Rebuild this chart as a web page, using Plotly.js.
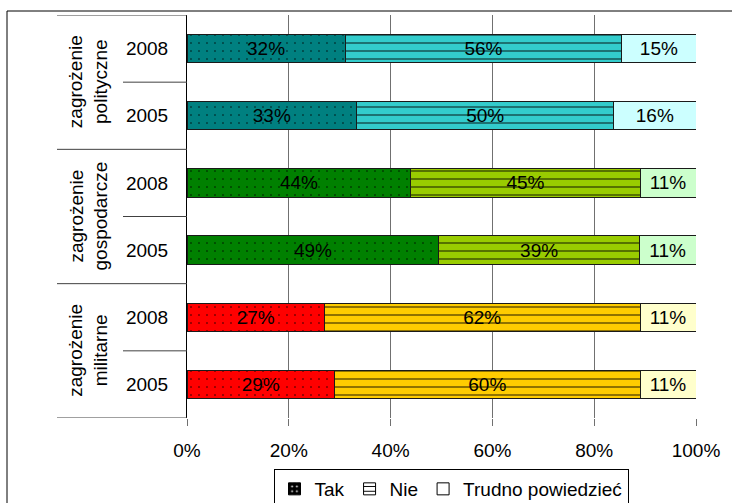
<!DOCTYPE html>
<html>
<head>
<meta charset="utf-8">
<script src="https://cdn.plot.ly/plotly-3.0.1.min.js"></script>
<style>html,body{margin:0;padding:0;background:#fff;}#chart{width:732px;height:503px;}</style>
</head>
<body>
<div id="chart"></div>
<script>
// ---- data ----
const groupNames = ['zagrożenie<br>polityczne', 'zagrożenie<br>gospodarcze', 'zagrożenie<br>militarne'];
const years = ['2008', '2005', '2008', '2005', '2008', '2005'];
const barGroup = [0, 0, 1, 1, 2, 2];
const tak = [32, 33, 44, 49, 27, 29];
const nie = [56, 50, 45, 39, 62, 60];
const trudno = [15, 16, 11, 11, 11, 11];
const seriesNames = ['Tak', 'Nie', 'Trudno powiedzieć'];

// ---- styles ----
const FONT = 'Liberation Sans, Arial, sans-serif';
const FS = 19;
const seriesColors = [
  ['#008080', '#008000', '#FF0000'],   // Tak
  ['#33CCCC', '#99CC00', '#FFCC00'],   // Nie
  ['#CCFFFF', '#CCFFCC', '#FFFFCC']    // Trudno powiedzieć
];
const seriesPatterns = [
  {shape: '.', size: 8, solidity: 0.03, fgcolor: '#000', fgopacity: 0.9, fillmode: 'replace'},
  {shape: '-', size: 8, solidity: 0.2, fgcolor: '#000', fgopacity: 0.55, fillmode: 'replace'},
  null
];
const seriesValues = [tak, nie, trudno];

const yIdx = years.map((_, i) => i);

const traces = [];
seriesValues.forEach((vals, s) => {
  groupNames.forEach((_, g) => {
    const idx = yIdx.filter(i => barGroup[i] === g);
    const col = seriesColors[s][g];
    const marker = {color: col, line: {color: '#1a1a1a', width: 1}};
    if (seriesPatterns[s]) marker.pattern = Object.assign({bgcolor: col}, seriesPatterns[s]);
    traces.push({
      type: 'bar', orientation: 'h', name: seriesNames[s],
      y: idx, x: idx.map(i => vals[i]), text: idx.map(i => vals[i] + '%'),
      width: 0.42, textposition: 'inside', insidetextanchor: 'middle', textangle: 0,
      textfont: {family: FONT, size: FS, color: '#000'},
      hoverinfo: 'skip', showlegend: false, marker: marker
    });
  });
});

// legend-only entries (black / white swatches as in the original legend)
const legendColors = ['#000000', '#FFFFFF', '#FFFFFF'];
const legendPatterns = [{shape: '.', size: 6, solidity: 0.1, fgcolor: '#fff', bgcolor: '#000', fillmode: 'replace'},
                        {shape: '-', size: 6, solidity: 0.2, fgcolor: '#000', bgcolor: '#fff', fillmode: 'replace'},
                        {shape: ''}];
seriesNames.forEach((n, k) => {
  traces.push({type: 'bar', orientation: 'h', x: [null], y: [null], name: n, showlegend: true,
    hoverinfo: 'skip',
    marker: {color: legendColors[k], line: {color: '#000', width: 1}, pattern: legendPatterns[k]}});
});

// plot geometry (pixels) for paper-referenced decorations
const W = 732, H = 503, ML = 187, MR = 36, MT = 15, MB = 85;
const PW = W - ML - MR, PH = H - MT - MB;
const px2x = (p) => (p - ML) / PW;
const px2y = (p) => (H - MB - p) / PH;

const shapes = [];
for (let k = 0; k <= years.length; k++) {
  const outer = (k % 2 === 0);
  shapes.push({type: 'line', xref: 'paper', yref: 'y', x0: px2x(outer ? 57 : 123), x1: 0,
    y0: k - 0.5, y1: k - 0.5, line: {color: '#404040', width: 1}});
}
// outer chart frame
shapes.push({type: 'rect', xref: 'paper', yref: 'paper', x0: px2x(7), x1: px2x(745),
  y0: px2y(520), y1: px2y(11), line: {color: '#000', width: 1}, fillcolor: 'rgba(0,0,0,0)'});

const annotations = groupNames.map((g, gi) => ({
  text: g, xref: 'paper', yref: 'y', x: px2x(88), y: 2 * gi + 0.5,
  textangle: -90, showarrow: false, xanchor: 'center', yanchor: 'middle',
  font: {family: FONT, size: FS, color: '#000'}
}));

const layout = {
  width: W, height: H,
  margin: {l: ML, r: MR, t: MT, b: MB, pad: 0, autoexpand: false},
  paper_bgcolor: '#fff', plot_bgcolor: '#fff',
  barmode: 'stack', barnorm: 'percent',
  font: {family: FONT, size: FS, color: '#000'},
  xaxis: {range: [0, 100], dtick: 20, tick0: 0, ticksuffix: '%', showgrid: true,
    gridcolor: '#707070', gridwidth: 1, zeroline: false, showline: false,
    ticks: 'outside', ticklen: 7, tickcolor: '#707070', tickwidth: 1, automargin: false,
    ticklabelstandoff: 8,
    tickfont: {family: FONT, size: FS, color: '#000'}, fixedrange: true},
  yaxis: {range: [years.length - 0.5, -0.5], tickmode: 'array', tickvals: yIdx, ticktext: years,
    showgrid: false, zeroline: false, showline: true, linecolor: '#000', linewidth: 1,
    ticks: '', ticklabelstandoff: 14, automargin: false,
    tickfont: {family: FONT, size: FS, color: '#000'}, fixedrange: true},
  legend: {orientation: 'h', x: px2x(451), xanchor: 'center', y: px2y(469), yanchor: 'top',
    bordercolor: '#000', borderwidth: 1, bgcolor: '#fff',
    font: {family: FONT, size: FS, color: '#000'}, traceorder: 'normal'},
  shapes: shapes, annotations: annotations,
  showlegend: true
};

Plotly.newPlot('chart', traces, layout, {displayModeBar: false, staticPlot: true});
</script>
</body>
</html>
